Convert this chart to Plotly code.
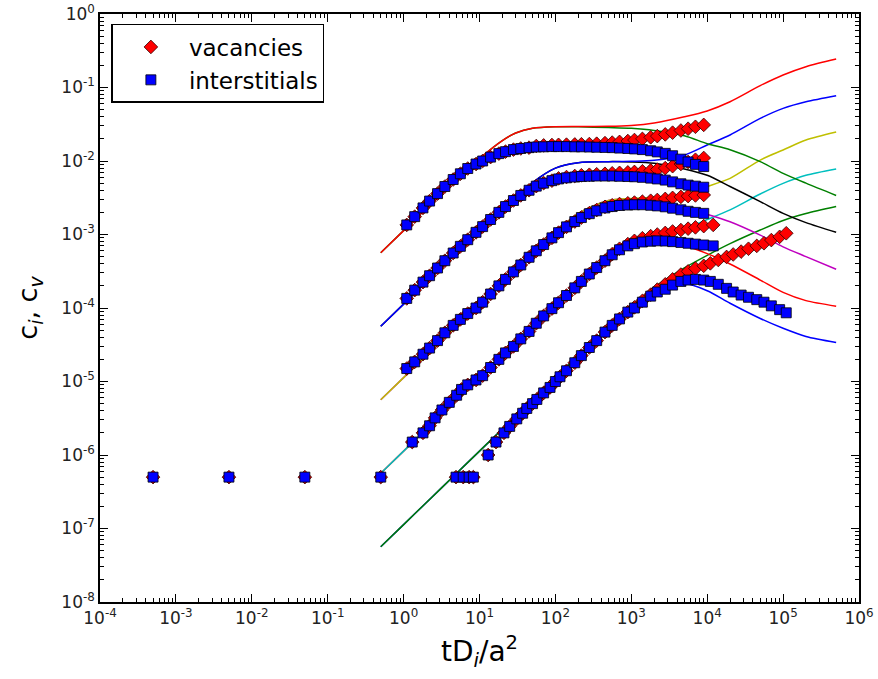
import plotly.graph_objects as go

# ---------------- model curves (rate-theory solution) ----------------
t_model = [0.5, 1, 2, 5, 10, 20, 30, 50, 100, 200, 500, 1e3, 2e3, 5e3, 1e4, 2e4, 5e4, 1e5, 2e5, 5e5]

model_v1 = [5.65e-4, 1.13e-3, 2.26e-3, 5.6e-3, 1.08e-2, 1.9e-2, 2.4e-2, 2.78e-2, 2.92e-2, 2.94e-2,
            2.96e-2, 3.05e-2, 3.3e-2, 4.0e-2, 4.8e-2, 6.4e-2, 1.06e-1, 1.48e-1, 1.92e-1, 2.44e-1]
model_i1 = [5.65e-4, 1.13e-3, 2.26e-3, 5.6e-3, 1.08e-2, 1.9e-2, 2.4e-2, 2.78e-2, 2.92e-2, 2.92e-2,
            2.85e-2, 2.78e-2, 2.6e-2, 2.2e-2, 1.72e-2, 1.42e-2, 9.8e-3, 6.8e-3, 5.0e-3, 3.4e-3]
model_v2 = [5.65e-5, 1.13e-4, 2.26e-4, 5.6e-4, 1.12e-3, 2.2e-3, 3.2e-3, 5.1e-3, 8.0e-3, 9.5e-3,
            9.8e-3, 9.9e-3, 1.02e-2, 1.2e-2, 1.65e-2, 2.26e-2, 3.8e-2, 5.2e-2, 6.4e-2, 7.74e-2]
model_i2 = [5.65e-5, 1.13e-4, 2.26e-4, 5.6e-4, 1.12e-3, 2.2e-3, 3.2e-3, 5.1e-3, 8.0e-3, 9.5e-3,
            9.8e-3, 9.7e-3, 9.3e-3, 7.8e-3, 6.4e-3, 4.5e-3, 2.8e-3, 1.94e-3, 1.45e-3, 1.07e-3]
model_v3 = [5.65e-6, 1.13e-5, 2.26e-5, 5.65e-5, 1.13e-4, 2.26e-4, 3.38e-4, 5.6e-4, 1.08e-3, 1.94e-3,
            2.9e-3, 3.1e-3, 3.2e-3, 3.6e-3, 4.5e-3, 5.8e-3, 1.03e-2, 1.41e-2, 1.93e-2, 2.48e-2]
model_i3 = [5.65e-6, 1.13e-5, 2.26e-5, 5.65e-5, 1.13e-4, 2.26e-4, 3.38e-4, 5.6e-4, 1.08e-3, 1.94e-3,
            2.9e-3, 3.0e-3, 2.8e-3, 2.3e-3, 1.88e-3, 1.49e-3, 9.8e-4, 6.8e-4, 5.0e-4, 3.36e-4]
model_v4 = [5.65e-7, 1.13e-6, 2.26e-6, 5.65e-6, 1.13e-5, 2.26e-5, 3.39e-5, 5.65e-5, 1.12e-4, 2.2e-4,
            5.1e-4, 8.0e-4, 9.8e-4, 1.2e-3, 1.6e-3, 2.16e-3, 3.56e-3, 4.97e-3, 6.4e-3, 7.8e-3]
model_i4 = [5.65e-7, 1.13e-6, 2.26e-6, 5.65e-6, 1.13e-5, 2.26e-5, 3.39e-5, 5.65e-5, 1.12e-4, 2.2e-4,
            5.1e-4, 7.8e-4, 8.6e-4, 7.1e-4, 5.5e-4, 3.97e-4, 2.4e-4, 1.63e-4, 1.26e-4, 1.06e-4]
model_v5 = [5.65e-8, 1.13e-7, 2.26e-7, 5.65e-7, 1.13e-6, 2.26e-6, 3.39e-6, 5.65e-6, 1.13e-5, 2.25e-5,
            5.5e-5, 1.05e-4, 1.9e-4, 3.5e-4, 5.2e-4, 7.5e-4, 1.15e-3, 1.55e-3, 1.93e-3, 2.4e-3]
model_i5 = [5.65e-8, 1.13e-7, 2.26e-7, 5.65e-7, 1.13e-6, 2.26e-6, 3.39e-6, 5.65e-6, 1.13e-5, 2.25e-5,
            5.5e-5, 1.05e-4, 1.8e-4, 2.15e-4, 1.72e-4, 1.16e-4, 7.2e-5, 5.3e-5, 4.1e-5, 3.4e-5]

# ---------------- simulation data ----------------
times_123 = [1.1, 1.4, 1.8, 2.2, 2.8, 3.5, 4.5, 5.6, 7, 9, 11, 14, 18, 22, 28, 35, 45, 56, 70, 90,
             110, 140, 180, 220, 280, 350, 450, 560, 700, 900, 1100, 1400, 1800, 2200, 2800, 3500,
             4500, 5600, 7000, 9000]

inter_1 = [1.35e-3, 1.75e-3, 2.3e-3, 2.85e-3, 3.6e-3, 4.5e-3, 5.6e-3, 6.7e-3, 7.9e-3, 9.1e-3,
           1.0e-2, 1.13e-2, 1.26e-2, 1.34e-2, 1.43e-2, 1.48e-2, 1.52e-2, 1.55e-2, 1.56e-2, 1.57e-2,
           1.57e-2, 1.57e-2, 1.56e-2, 1.56e-2, 1.55e-2, 1.54e-2, 1.53e-2, 1.52e-2, 1.5e-2, 1.48e-2,
           1.46e-2, 1.43e-2, 1.38e-2, 1.33e-2, 1.27e-2, 1.18e-2, 1.06e-2, 9.7e-3, 9.0e-3, 8.4e-3]
vac_1 = [1.35e-3, 1.75e-3, 2.3e-3, 2.85e-3, 3.6e-3, 4.5e-3, 5.6e-3, 6.7e-3, 7.9e-3, 9.1e-3,
         1.0e-2, 1.13e-2, 1.26e-2, 1.34e-2, 1.43e-2, 1.48e-2, 1.52e-2, 1.6e-2, 1.63e-2, 1.65e-2,
         1.66e-2, 1.67e-2, 1.68e-2, 1.69e-2, 1.7e-2, 1.72e-2, 1.75e-2, 1.78e-2, 1.82e-2, 1.87e-2,
         1.93e-2, 2.0e-2, 2.1e-2, 2.18e-2, 2.3e-2, 2.43e-2, 2.6e-2, 2.75e-2, 2.92e-2, 3.1e-2]

inter_2 = [1.35e-4, 1.75e-4, 2.25e-4, 2.75e-4, 3.5e-4, 4.4e-4, 5.6e-4, 6.9e-4, 8.5e-4, 1.07e-3,
           1.28e-3, 1.6e-3, 2.0e-3, 2.4e-3, 2.9e-3, 3.4e-3, 4.0e-3, 4.55e-3, 5.0e-3, 5.4e-3,
           5.7e-3, 5.9e-3, 6.05e-3, 6.15e-3, 6.2e-3, 6.25e-3, 6.25e-3, 6.25e-3, 6.2e-3, 6.15e-3,
           6.1e-3, 6.0e-3, 5.85e-3, 5.7e-3, 5.5e-3, 5.2e-3, 4.9e-3, 4.7e-3, 4.55e-3, 4.4e-3]
vac_2 = [1.35e-4, 1.75e-4, 2.25e-4, 2.75e-4, 3.5e-4, 4.4e-4, 5.6e-4, 6.9e-4, 8.5e-4, 1.07e-3,
         1.28e-3, 1.6e-3, 2.0e-3, 2.4e-3, 2.9e-3, 3.4e-3, 4.0e-3, 4.55e-3, 5.0e-3, 5.4e-3,
         5.8e-3, 6.05e-3, 6.25e-3, 6.4e-3, 6.5e-3, 6.6e-3, 6.7e-3, 6.8e-3, 6.9e-3, 7.0e-3,
         7.1e-3, 7.25e-3, 7.45e-3, 7.65e-3, 8.0e-3, 8.5e-3, 9.1e-3, 9.7e-3, 1.04e-2, 1.1e-2]

inter_3 = [1.5e-5, 1.85e-5, 2.35e-5, 2.85e-5, 3.6e-5, 4.6e-5, 5.8e-5, 7.0e-5, 8.4e-5, 1.0e-4,
           1.2e-4, 1.55e-4, 2.0e-4, 2.45e-4, 3.1e-4, 3.85e-4, 4.9e-4, 6.0e-4, 7.3e-4, 9.0e-4,
           1.06e-3, 1.27e-3, 1.5e-3, 1.7e-3, 1.92e-3, 2.1e-3, 2.3e-3, 2.4e-3, 2.48e-3, 2.52e-3,
           2.54e-3, 2.54e-3, 2.5e-3, 2.45e-3, 2.38e-3, 2.28e-3, 2.17e-3, 2.07e-3, 2.0e-3, 1.94e-3]
vac_3 = [1.5e-5, 1.85e-5, 2.35e-5, 2.85e-5, 3.6e-5, 4.6e-5, 5.8e-5, 7.0e-5, 8.4e-5, 1.0e-4,
         1.2e-4, 1.55e-4, 2.0e-4, 2.45e-4, 3.1e-4, 3.85e-4, 4.9e-4, 6.0e-4, 7.3e-4, 9.0e-4,
         1.06e-3, 1.27e-3, 1.5e-3, 1.7e-3, 1.95e-3, 2.15e-3, 2.38e-3, 2.5e-3, 2.6e-3, 2.66e-3,
         2.72e-3, 2.8e-3, 2.88e-3, 2.95e-3, 3.05e-3, 3.15e-3, 3.25e-3, 3.33e-3, 3.4e-3, 3.45e-3]

times_4 = [0.0005, 0.005, 0.05, 0.5, 1.3, 1.8, 2.2, 2.6, 3.2, 4, 5, 5.8, 7, 9, 11, 14, 18, 22, 28, 35,
           45, 56, 70, 90, 110, 140, 180, 220, 280, 350, 450, 560, 700, 900, 1100, 1400, 1800, 2200,
           2800, 3500, 4500, 5600, 7000, 9000, 12000]
inter_4 = [5e-7, 5e-7, 5e-7, 5e-7, 1.5e-6, 2.0e-6, 2.5e-6, 3.2e-6, 4.1e-6, 5.2e-6,
           6.5e-6, 7.8e-6, 9.0e-6, 1.05e-5, 1.2e-5, 1.55e-5, 2.0e-5, 2.45e-5, 3.0e-5, 3.8e-5,
           4.8e-5, 6.2e-5, 7.8e-5, 9.8e-5, 1.18e-4, 1.48e-4, 1.88e-4, 2.3e-4, 2.9e-4, 3.55e-4,
           4.4e-4, 5.3e-4, 6.2e-4, 7.0e-4, 7.5e-4, 7.9e-4, 8.1e-4, 8.2e-4, 8.15e-4, 8.0e-4,
           7.8e-4, 7.6e-4, 7.4e-4, 7.2e-4, 7.0e-4]
vac_4 = [5e-7, 5e-7, 5e-7, 5e-7, 1.5e-6, 2.0e-6, 2.5e-6, 3.2e-6, 4.1e-6, 5.2e-6,
         6.5e-6, 7.8e-6, 9.0e-6, 1.05e-5, 1.2e-5, 1.55e-5, 2.0e-5, 2.45e-5, 3.0e-5, 3.8e-5,
         4.8e-5, 6.2e-5, 7.8e-5, 9.8e-5, 1.18e-4, 1.48e-4, 1.88e-4, 2.3e-4, 2.9e-4, 3.55e-4,
         4.4e-4, 5.4e-4, 6.4e-4, 7.4e-4, 8.2e-4, 8.9e-4, 9.5e-4, 1.0e-3, 1.05e-3, 1.1e-3,
         1.15e-3, 1.2e-3, 1.25e-3, 1.3e-3, 1.35e-3]

times_5 = [4.9, 6.1, 7.3, 8.3, 13, 16.5, 21, 25, 31, 37, 42, 50, 57, 70, 85, 100, 115, 140, 180, 220,
           280, 350, 450, 560, 700, 900, 1100, 1400, 1800, 2200, 2800, 3500, 4500, 5600, 7000, 9000,
           11000, 14000, 18000, 22000, 28000, 35000, 45000, 56000, 70000, 90000, 110000]
inter_5 = [5e-7, 5e-7, 5e-7, 5e-7, 1e-6, 1.5e-6, 2e-6, 2.45e-6, 3.1e-6, 3.7e-6,
           4.3e-6, 5.0e-6, 5.7e-6, 7.0e-6, 8.3e-6, 1.0e-5, 1.16e-5, 1.4e-5, 1.8e-5, 2.25e-5,
           2.9e-5, 3.6e-5, 4.7e-5, 5.8e-5, 7.1e-5, 8.8e-5, 1.0e-4, 1.2e-4, 1.45e-4, 1.65e-4,
           1.8e-4, 2.05e-4, 2.3e-4, 2.4e-4, 2.45e-4, 2.4e-4, 2.3e-4, 2.1e-4, 1.85e-4, 1.65e-4,
           1.5e-4, 1.4e-4, 1.3e-4, 1.2e-4, 1.07e-4, 9.5e-5, 8.6e-5]
vac_5 = [5e-7, 5e-7, 5e-7, 5e-7, 1e-6, 1.5e-6, 2e-6, 2.45e-6, 3.1e-6, 3.7e-6,
         4.3e-6, 5.0e-6, 5.7e-6, 7.0e-6, 8.3e-6, 1.0e-5, 1.16e-5, 1.4e-5, 1.8e-5, 2.25e-5,
         2.9e-5, 3.6e-5, 4.7e-5, 5.8e-5, 7.1e-5, 8.8e-5, 1.02e-4, 1.25e-4, 1.52e-4, 1.78e-4,
         2.1e-4, 2.45e-4, 2.85e-4, 3.15e-4, 3.45e-4, 3.75e-4, 4.05e-4, 4.5e-4, 4.95e-4, 5.35e-4,
         5.85e-4, 6.4e-4, 7.0e-4, 7.6e-4, 8.4e-4, 9.3e-4, 1.04e-3]

x_tick_labels = ["10<sup>-4</sup>", "10<sup>-3</sup>", "10<sup>-2</sup>", "10<sup>-1</sup>", "10<sup>0</sup>",
                 "10<sup>1</sup>", "10<sup>2</sup>", "10<sup>3</sup>", "10<sup>4</sup>", "10<sup>5</sup>",
                 "10<sup>6</sup>"]
y_tick_labels = ["10<sup>-8</sup>", "10<sup>-7</sup>", "10<sup>-6</sup>", "10<sup>-5</sup>", "10<sup>-4</sup>",
                 "10<sup>-3</sup>", "10<sup>-2</sup>", "10<sup>-1</sup>", "10<sup>0</sup>"]

# matplotlib classic colour cycle b g r c m y k
C = {"b": "#0000ff", "g": "#008000", "r": "#ff0000", "c": "#00bfbf",
     "m": "#bf00bf", "y": "#bfbf00", "k": "#000000"}

fig = go.Figure()

model_order = [(model_i5, "b"), (model_v5, "g"), (model_i4, "r"), (model_v4, "c"),
               (model_i3, "m"), (model_v3, "y"), (model_i2, "k"), (model_v2, "b"),
               (model_i1, "g"), (model_v1, "r")]
for ys, col in model_order:
    fig.add_trace(go.Scatter(x=t_model, y=ys, mode="lines", showlegend=False,
                             line=dict(color=C[col], width=1.5, shape="spline", smoothing=0.8),
                             hoverinfo="skip"))

vac_sets = [(times_123, vac_1), (times_123, vac_2), (times_123, vac_3), (times_4, vac_4), (times_5, vac_5)]
int_sets = [(times_123, inter_1), (times_123, inter_2), (times_123, inter_3), (times_4, inter_4), (times_5, inter_5)]

for k, (xs, ys) in enumerate(vac_sets):
    fig.add_trace(go.Scatter(x=xs, y=ys, mode="markers", name="vacancies",
                             legendgroup="vac", showlegend=(k == 0),
                             marker=dict(symbol="diamond", size=10.5, color="#ff0000",
                                         line=dict(color="#300000", width=0.8))))
for k, (xs, ys) in enumerate(int_sets):
    fig.add_trace(go.Scatter(x=xs, y=ys, mode="markers", name="interstitials",
                             legendgroup="int", showlegend=(k == 0),
                             marker=dict(symbol="square", size=10, color="#0000ff",
                                         line=dict(color="#000000", width=0.8))))

minor_x = [m * 10.0 ** e for e in range(-4, 6) for m in range(2, 10)]
minor_y = [m * 10.0 ** e for e in range(-8, 0) for m in range(2, 10)]

axis_common = dict(type="log", showgrid=False, zeroline=False, showline=True,
                   linecolor="black", linewidth=1.5, mirror="allticks", automargin=False,
                   ticks="inside", ticklen=8, tickwidth=1, tickcolor="black",
                   tickfont=dict(family="DejaVu Sans", size=17, color="#222222"))

fig.update_xaxes(**axis_common, range=[-4, 6], tickmode="array",
                 tickvals=[10.0 ** e for e in range(-4, 7)], ticktext=x_tick_labels,
                 minor=dict(ticks="inside", ticklen=4, tickcolor="black", tickvals=minor_x),
                 title=dict(text="tD<sub><i>i</i></sub>/a<sup>2</sup>",
                            font=dict(family="DejaVu Sans", size=28, color="black"), standoff=14))
fig.update_yaxes(**axis_common, range=[-8, 0], tickmode="array",
                 tickvals=[10.0 ** e for e in range(-8, 1)], ticktext=y_tick_labels,
                 minor=dict(ticks="inside", ticklen=4, tickcolor="black", tickvals=minor_y),
                 title=dict(text="c<sub><i>i</i></sub>, c<sub><i>v</i></sub>",
                            font=dict(family="DejaVu Sans", size=27, color="black"), standoff=16))

fig.update_layout(width=878, height=679, margin=dict(l=100, r=19, t=14, b=77),
                  paper_bgcolor="white", plot_bgcolor="white",
                  font=dict(family="DejaVu Sans", color="black"),
                  legend=dict(x=0.015, y=0.983, xanchor="left", yanchor="top",
                              bgcolor="white", bordercolor="black", borderwidth=1.5,
                              font=dict(family="DejaVu Sans", size=23, color="black"),
                              tracegroupgap=0, itemwidth=66))

fig.write_html("out.html")
